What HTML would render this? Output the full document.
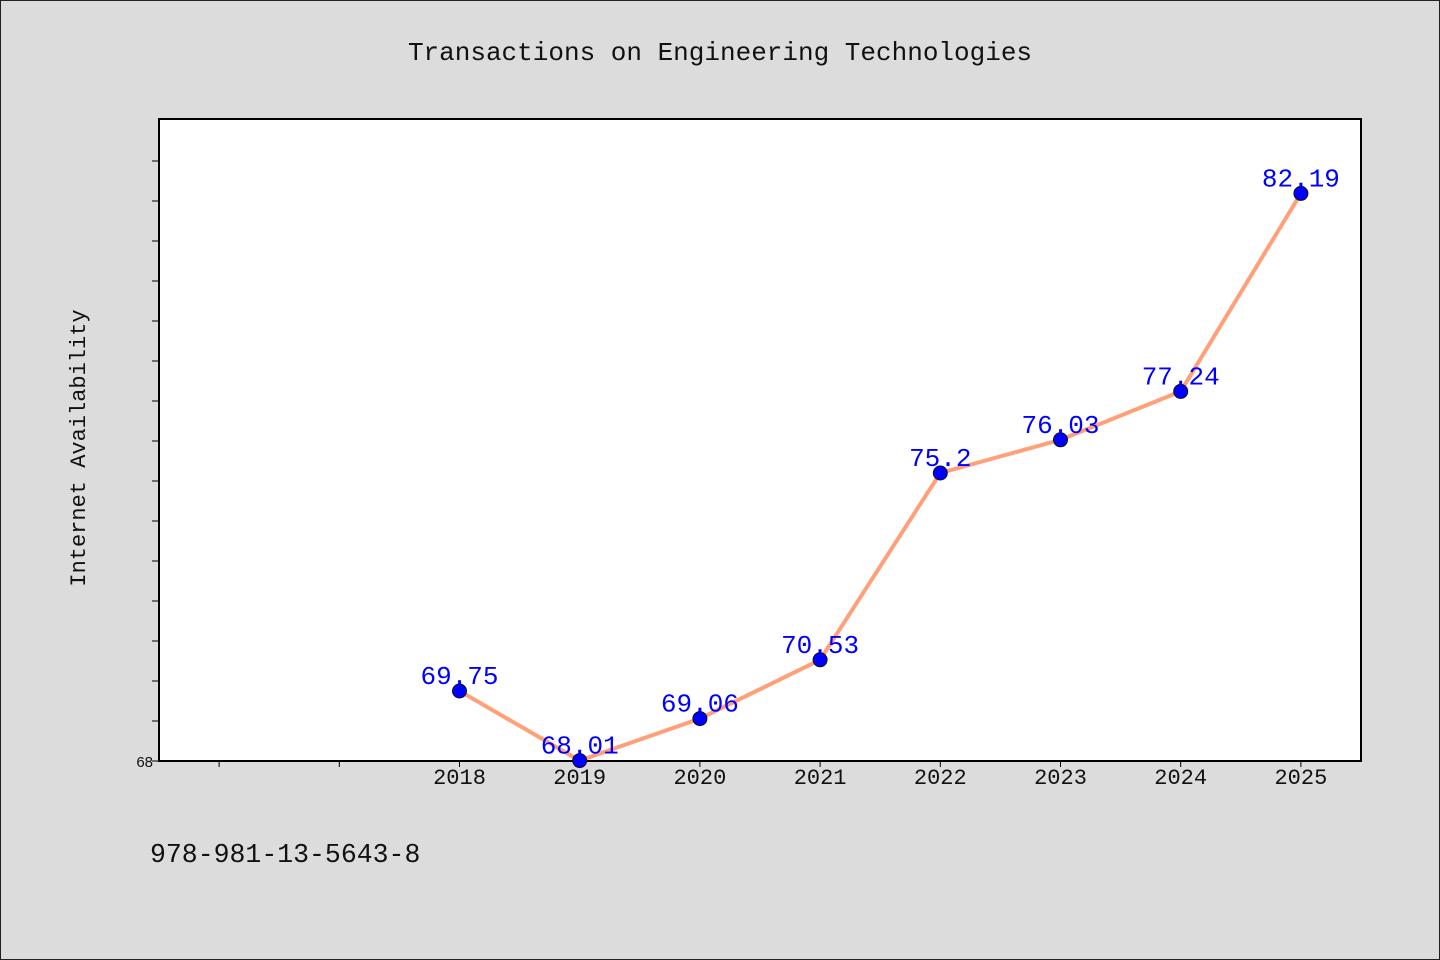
<!DOCTYPE html>
<html><head><meta charset="utf-8"><style>
html,body{margin:0;padding:0;background:#dcdcdc;}
svg{display:block;}
</style></head><body>
<svg id="chart" width="1440" height="960" xmlns="http://www.w3.org/2000/svg">
<rect x="0.5" y="0.5" width="1439" height="959" fill="#dcdcdc" stroke="#222" stroke-width="1"/>
<text x="720" y="60" text-anchor="middle" font-family="Liberation Mono, monospace" font-size="26" fill="#111">Transactions on Engineering Technologies</text>
<rect x="159" y="119" width="1202" height="642" fill="#fff" stroke="#000" stroke-width="2"/>
<text transform="translate(85,448) rotate(-90)" text-anchor="middle" font-family="Liberation Mono, monospace" font-size="22" fill="#111">Internet Availability</text>
<text x="150" y="862" font-family="Liberation Mono, monospace" font-size="26.5" fill="#111">978-981-13-5643-8</text>
<g id="axes"></g>
<g id="series"></g>
</svg>
<script>
const categories = ["", "", "2018", "2019", "2020", "2021", "2022", "2023", "2024", "2025"];
const values = [null, null, 69.75, 68.01, 69.06, 70.53, 75.2, 76.03, 77.24, 82.19];
const labels = ["", "", "69.75", "68.01", "69.06", "70.53", "75.2", "76.03", "77.24", "82.19"];
const yTickValues = [68,69,70,71,72,73,74,75,76,77,78,79,80,81,82,83];
const yTickLabels = ["68"];

(function(){
const NS = "http://www.w3.org/2000/svg";
const pL = 159, pR = 1361, pT = 119, pB = 761;
const yMin = 68, yMax = 68 + (pB - pT) / 40;
const slot = (pR - pL) / categories.length;
function xPos(i){ return pL + slot * (i + 0.5); }
function yPos(v){ return pB - (v - yMin) / (yMax - yMin) * (pB - pT); }
function mk(tag, attrs, parent){ const e = document.createElementNS(NS, tag); for (const k in attrs) e.setAttribute(k, attrs[k]); parent.appendChild(e); return e; }

const axes = document.getElementById('axes');
yTickValues.forEach((v, i) => {
  const t = mk('line', {x1: pL - 7, x2: pL, y1: yPos(v), y2: yPos(v), stroke: '#000', 'stroke-width': 1}, axes);
  
  
  if (yTickLabels[i]) {
    const l = mk('text', {x: pL - 6, y: yPos(v) + 6, 'text-anchor': 'end', 'font-family': 'Liberation Sans, sans-serif', 'font-size': 15, fill: '#111'}, axes);
    l.textContent = yTickLabels[i];
    
    
  }
});
categories.forEach((c, i) => {
  const t = mk('line', {x1: xPos(i), x2: xPos(i), y1: pB, y2: pB + 6, stroke: '#000', 'stroke-width': 1}, axes);
  
  
  if (c) {
    const l = mk('text', {x: xPos(i), y: pB + 23, 'text-anchor': 'middle', 'font-family': 'Liberation Mono, monospace', 'font-size': 22, fill: '#111'}, axes);
    l.textContent = c;
    
    
  }
});

const series = document.getElementById('series');
const pts = [];
values.forEach((v, i) => { if (v !== null) pts.push([xPos(i), yPos(v), i]); });
const line = mk('polyline', {points: pts.map(p => p[0] + ',' + p[1]).join(' '), fill: 'none', stroke: '#ffa07a', 'stroke-width': 4, 'stroke-linejoin': 'round'}, series);


pts.forEach(p => {
  const c = mk('circle', {cx: p[0], cy: p[1], r: 7, fill: '#0000ff', stroke: '#111', 'stroke-width': 1}, series);
  
  
  const t = mk('text', {x: p[0], y: p[1] - 7, 'text-anchor': 'middle', 'font-family': 'Liberation Mono, monospace', 'font-size': 26, fill: '#0000ff'}, series);
  t.textContent = labels[p[2]];
  
  
});
})();
</script>
</body></html>
